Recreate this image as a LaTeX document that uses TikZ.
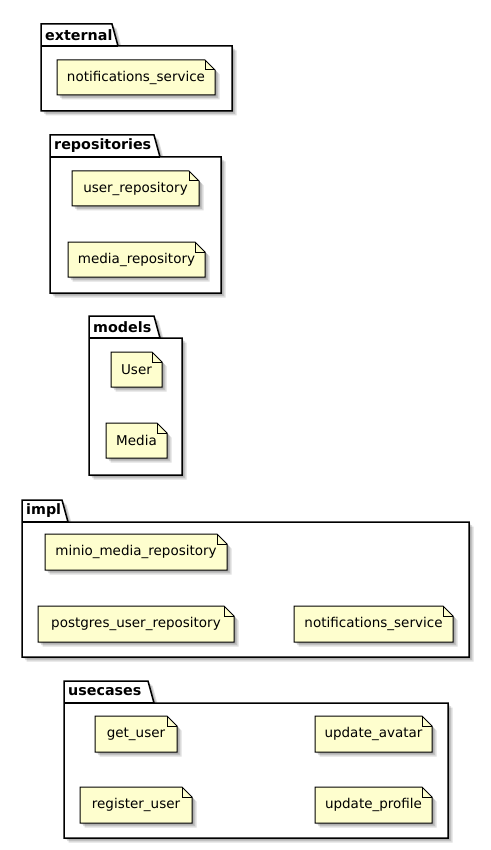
\documentclass[tikz,border=0pt]{standalone}
\usepackage{fontspec}
\setmainfont{DejaVu Sans}
\definecolor{notebg}{HTML}{FEFECE}
\tikzset{
  notebody/.style={fill=notebg, draw=black, line width=1pt, line join=miter},
  pkgbody/.style={fill=white, draw=black, line width=1.5pt, line join=miter},
  dropshadow/.style={fill=black, opacity=0.13, draw=none},
  notetext/.style={font=\fontsize{13.5}{15}\selectfont, inner sep=0pt, text=black},
  pkgtitle/.style={font=\fontsize{14.3}{16}\selectfont\bfseries, inner sep=0pt, anchor=west, text=black},
}
% package: name, title, left, tab top, tab right, body top, right, bottom
\newcommand\umlpackage[8]{%
  \foreach \s in {1.5,3,4.5}{%
    \fill[dropshadow, shift={(\s,\s)}] (#3,#4) -- (#5-6,#4) -- (#5,#6) -- (#7,#6) -- (#7,#8) -- (#3,#8) -- cycle;
  }
  \filldraw[pkgbody] (#3,#4) -- (#5-6,#4) -- (#5,#6) -- (#7,#6) -- (#7,#8) -- (#3,#8) -- cycle;
  \draw[pkgbody, fill=none] (#3,#6) -- (#5,#6);
  \node[pkgtitle] (#1) at (#3+4,{(#4+#6)/2}) {#2};
}
% note with folded corner: name, left, top, right, bottom, text
\newcommand\umlnote[6]{%
  \foreach \s in {1.5,3,4.5}{%
    \fill[dropshadow, shift={(\s,\s)}] (#2,#3) -- (#4-10,#3) -- (#4,#3+10) -- (#4,#5) -- (#2,#5) -- cycle;
  }
  \filldraw[notebody] (#2,#3) -- (#4-10,#3) -- (#4,#3+10) -- (#4,#5) -- (#2,#5) -- cycle;
  \draw[notebody, fill=none] (#4-10,#3) -- (#4-10,#3+10) -- (#4,#3+10);
  \node[notetext] (#1) at ({(#2+#4)/2},{(#3+#5)/2}) {#6};
}
\begin{document}
\begin{tikzpicture}[x=1pt,y=-1pt]
\useasboundingbox (0,0) rectangle (490,850);
\fill[white] (0,0) rectangle (490,850);

% external
\umlpackage{pExternal}{external}{41}{24}{118}{46}{232}{111}
\umlnote{nExtNotif}{57}{60}{215}{95}{notifications\_service}

% repositories
\umlpackage{pRepos}{repositories}{50}{135}{160}{157}{221}{293}
\umlnote{nUserRepo}{72}{171}{199}{206}{user\_repository}
\umlnote{nMediaRepo}{68}{242}{205}{277}{media\_repository}

% models
\umlpackage{pModels}{models}{89}{316}{160}{338}{182}{475}
\umlnote{nUser}{111}{352}{162}{387}{User}
\umlnote{nMedia}{106}{423}{167}{458}{Media}

% impl
\umlpackage{pImpl}{impl}{22}{500}{68}{522}{469}{657}
\umlnote{nMinio}{45}{534}{227}{570}{minio\_media\_repository}
\umlnote{nPostgres}{38}{606}{234}{642}{postgres\_user\_repository}
\umlnote{nImplNotif}{294}{606}{453}{642}{notifications\_service}

% usecases
\umlpackage{pUsecases}{usecases}{64}{681}{154}{703}{448}{838}
\umlnote{nGetUser}{95}{716}{177}{752}{get\_user}
\umlnote{nRegister}{80}{787}{192}{823}{register\_user}
\umlnote{nAvatar}{315}{716}{432}{752}{update\_avatar}
\umlnote{nProfile}{315}{787}{432}{823}{update\_profile}
\end{tikzpicture}
\end{document}
